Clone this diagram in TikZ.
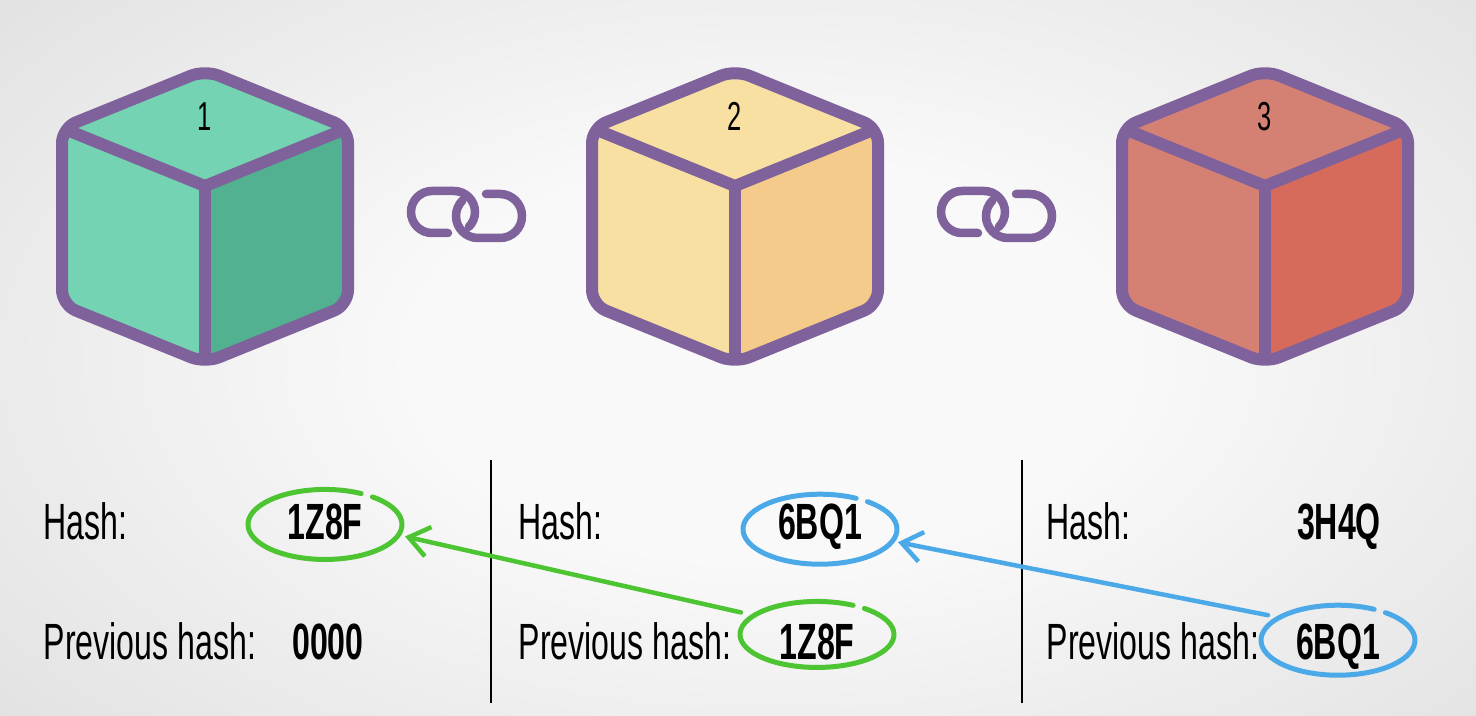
\documentclass[tikz,border=0pt]{standalone}
\usepackage{fontspec}
\usepackage{tikz}
\usetikzlibrary{calc}
\usetikzlibrary{arrows.meta}
\newfontfamily\condfont[FakeStretch=0.63]{Liberation Sans}

\definecolor{bgin}{HTML}{F9F9F9}
\definecolor{bgmid}{HTML}{E6E6E6}
\definecolor{bgfar}{HTML}{D2D2D2}
\definecolor{bgout}{HTML}{BEBEBE}
\definecolor{cubeline}{HTML}{7F619B}
\definecolor{tealA}{HTML}{74D3B2}
\definecolor{tealB}{HTML}{52B190}
\definecolor{sandA}{HTML}{F8DFA2}
\definecolor{sandB}{HTML}{F4CB8B}
\definecolor{rustA}{HTML}{D48174}
\definecolor{rustB}{HTML}{D66B5C}
\definecolor{ringgreen}{HTML}{4DC532}
\definecolor{ringblue}{HTML}{4BA9E8}
\pgfdeclareradialshading{vignette}{\pgfpoint{0bp}{0bp}}{color(0bp)=(bgin); color(10bp)=(bgin); color(25bp)=(bgmid); color(40bp)=(bgfar); color(71bp)=(bgout)}

\begin{document}
\begin{tikzpicture}[x=0.1mm, y=-0.1mm,
	cube/.style={draw=cubeline, line width=1.2mm, line join=round, line cap=round},
	link/.style={draw=cubeline, line width=0.85mm, line cap=round},
	lbl/.style={font=\condfont\fontsize{14.5}{16}\selectfont, anchor=base west, inner sep=0pt},
	val/.style={font=\condfont\bfseries\fontsize{14.5}{16}\selectfont, anchor=base, inner sep=0pt},
	ring/.style={line width=0.5mm, line cap=round},
	back/.style={line width=0.45mm, line cap=round, -{Straight Barb[length=2mm, width=3mm]}},
	sep/.style={draw=black, line width=0.2mm}]
	\useasboundingbox (0,0) rectangle (1476,716);
	\begin{scope}
	\clip (0,0) rectangle (1476,716);
	\shade[shading=vignette] (-130,-140) rectangle (1670,860);
	\end{scope}

	\foreach \x/\n/\lt/\dk in {205/1/tealA/tealB, 735/2/sandA/sandB, 1265/3/rustA/rustB} {
		\fill[\lt, rounded corners=1.5mm] (\x,70) -- (\x+143,128) -- (\x+143,305) -- (\x,363) -- (\x-143,305) -- (\x-143,128) -- cycle;
		\fill[\dk] (\x,186) -- (\x+143,128) -- (\x+143,305) -- (\x,363) -- cycle;
		\draw[cube, rounded corners=1.5mm] (\x,70) -- (\x+143,128) -- (\x+143,305) -- (\x,363) -- (\x-143,305) -- (\x-143,128) -- cycle;
		\draw[cube, shorten <=1mm, shorten >=1mm] (\x-143,128) -- (\x,186) -- (\x+143,128);
		\draw[cube, shorten >=1mm] (\x,186) -- (\x,363);
		\node[lbl, anchor=base, font=\condfont\fontsize{11.5}{13}\selectfont] (n\n) at (\x,131) {\n};
	}

	\foreach \x in {0, 530} {
		\draw[link] (\x+448,233) -- (\x+432,233) arc[start angle=90, end angle=270, radius=21] -- (\x+454,191) arc[start angle=270, end angle=405, radius=21];
		\draw[link] (\x+486,194) -- (\x+500,194) arc[start angle=270, end angle=450, radius=22] -- (\x+478,238) arc[start angle=90, end angle=225, radius=22];
	}

	\draw[sep] (491,460) -- (491,703);
	\draw[sep] (1022,460) -- (1022,703);

	\foreach \x/\i in {43/1, 518/2, 1046/3} {
		\node[lbl] (hl\i) at (\x,540) {Hash:};
		\node[lbl] (pl\i) at (\x,660) {Previous hash:};
	}
	\node[val] (h1) at (325,540) {1Z8F};
	\node[val] (p1) at (328,660) {0000};
	\node[val] (h2) at (820,540) {6BQ1};
	\node[val] (p2) at (817,660) {1Z8F};
	\node[val] (h3) at (1339,540) {3H4Q};
	\node[val] (p3) at (1338,660) {6BQ1};

	\foreach \v/\dy/\ry/\c in {h1/2/35/ringgreen, h2/2/35/ringblue, p2/-8/33/ringgreen, p3/-7/35/ringblue}
	\draw[ring, \c] ($(\v.center)+(0,\dy)+(-52:77 and \ry)$) arc[start angle=-52, end angle=298, x radius=77, y radius=\ry];

	\coordinate (h1in) at ($(h1.center)+(80,14)$);
	\coordinate (p2out) at ($(p2.center)+(-76,-30)$);
	\coordinate (h2in) at ($(h2.center)+(78,15)$);
	\coordinate (p3out) at ($(p3.center)+(-70,-32)$);
	\draw[back, ringgreen] (p2out) -- (h1in);
	\draw[back, ringblue] (p3out) -- (h2in);
\end{tikzpicture}
\end{document}
